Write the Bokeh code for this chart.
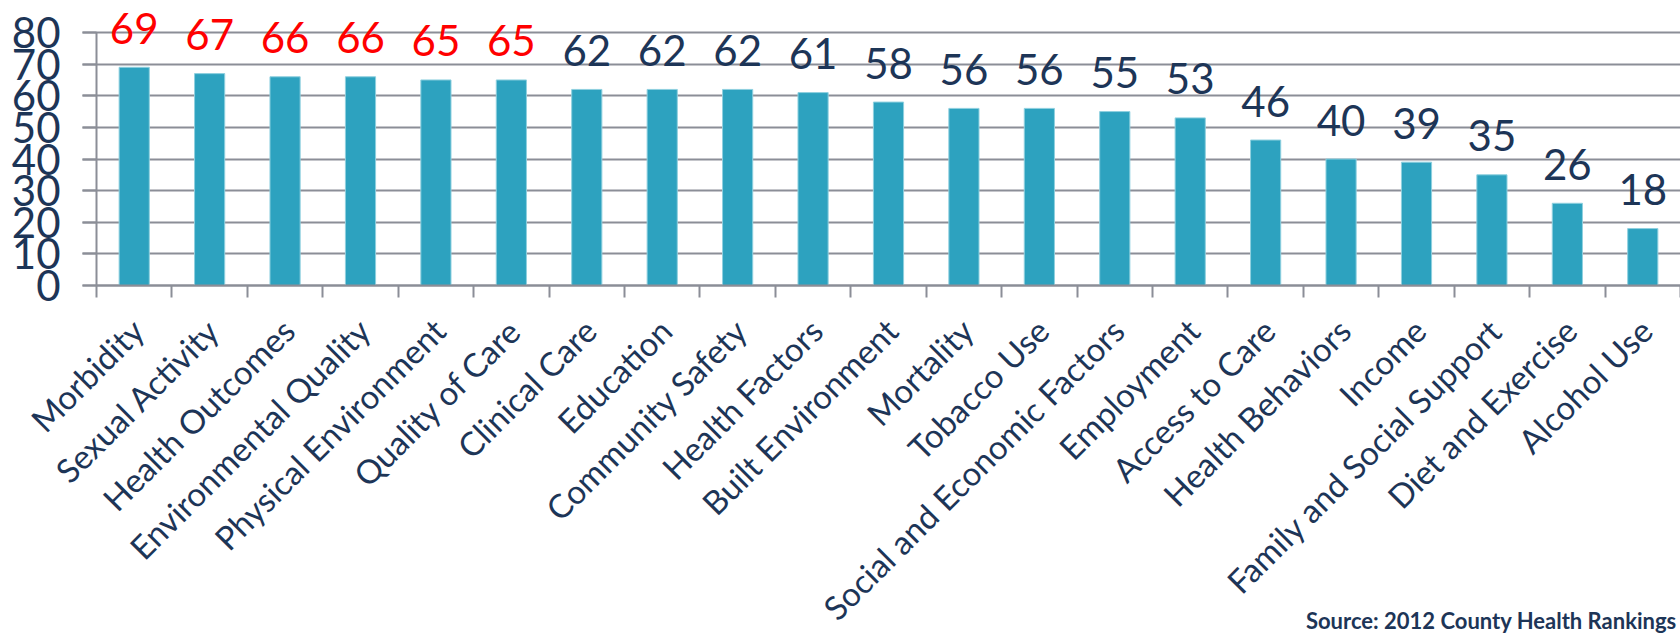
import math
from bokeh.plotting import figure
from bokeh.models import FixedTicker, ColumnDataSource, Label, Range1d, CustomJSTickFormatter, Grid
from bokeh.core.properties import value
from bokeh.embed import file_html
from bokeh.resources import INLINE

categories = ["Morbidity", "Sexual Activity", "Health Outcomes", "Environmental Quality",
              "Physical Environment", "Quality of Care", "Clinical Care", "Education",
              "Community Safety", "Health Factors", "Built Environment", "Mortality",
              "Tobacco Use", "Social and Economic Factors", "Employment", "Access to Care",
              "Health Behaviors", "Income", "Family and Social Support", "Diet and Exercise",
              "Alcohol Use"]
scores = [69, 67, 66, 66, 65, 65, 62, 62, 62, 61, 58, 56, 56, 55, 53, 46, 40, 39, 35, 26, 18]
highlighted = [True] * 6 + [False] * 15
y_ticks = [0, 10, 20, 30, 40, 50, 60, 70, 80]
source_note = "Source: 2012 County Health Rankings"

NAVY = "#1D3557"
RED = "#FF0000"
BAR = "#2DA2BF"
GRID = "#8B8E97"
FONT = "Lato"

n = len(categories)
centers = [i + 0.5 for i in range(n)]
label_ticks = [i + 0.54 for i in range(n)]
src = ColumnDataSource(dict(
    x=centers,
    top=scores,
    label=[str(s) for s in scores],
    color=[RED if h else NAVY for h in highlighted],
))

# frame covers the whole canvas; both axes are pinned at 0
p = figure(width=1680, height=636, x_range=Range1d(-1.2727, n), y_range=Range1d(-110.99, 90.12),
           output_backend="svg", toolbar_location=None,
           min_border_left=0, min_border_right=0, min_border_top=0, min_border_bottom=0)
p.outline_line_color = None
p.background_fill_color = "white"
p.border_fill_color = "white"

# horizontal grid lines, from the tick stubs to the right edge
grid_start = -14 / 75.43
if "cross_bounds" in Grid.properties():
    p.ygrid.cross_bounds = (grid_start, n)
    p.ygrid.grid_line_color = GRID
    p.ygrid.grid_line_width = 2
else:
    p.ygrid.visible = False
    p.segment(x0=[grid_start] * len(y_ticks), x1=[n] * len(y_ticks), y0=y_ticks, y1=y_ticks,
              line_color=GRID, line_width=2)
p.xgrid.visible = False

p.vbar(x="x", top="top", width=0.4, source=src, fill_color=BAR, line_color="#8FD0DF", line_width=1)
p.text(x="x", y="top", text="label", text_color="color", source=src,
       text_font=value(FONT), text_font_size="42px", text_align="center",
       text_baseline="alphabetic", y_offset=-39)

# y axis
p.yaxis.fixed_location = 0
p.yaxis.ticker = FixedTicker(ticks=y_ticks)
p.yaxis.bounds = (0, 80)
p.yaxis.axis_line_color = GRID
p.yaxis.axis_line_width = 2
p.yaxis.major_tick_line_color = GRID
p.yaxis.major_tick_line_width = 2
p.yaxis.major_tick_out = 14
p.yaxis.major_tick_in = 0
p.yaxis.minor_tick_line_color = None
p.yaxis.major_label_standoff = 22
p.yaxis.major_label_text_font = FONT
p.yaxis.major_label_text_font_size = "42px"
p.yaxis.major_label_text_color = NAVY

# x axis
p.xaxis.fixed_location = 0
p.xaxis.bounds = (0, n)
p.xaxis.ticker = FixedTicker(ticks=label_ticks, minor_ticks=list(range(n + 1)))
p.xaxis.formatter = CustomJSTickFormatter(args=dict(names=categories),
                                          code="return names[Math.floor(tick)] || '';")
p.xaxis.axis_line_color = GRID
p.xaxis.axis_line_width = 2
p.xaxis.major_tick_line_color = None
p.xaxis.major_tick_out = 0
p.xaxis.major_tick_in = 0
p.xaxis.minor_tick_line_color = GRID
p.xaxis.minor_tick_line_width = 2
p.xaxis.minor_tick_out = 12
p.xaxis.minor_tick_in = 0
p.xaxis.major_label_orientation = math.pi / 4
p.xaxis.major_label_standoff = 27
p.xaxis.major_label_text_font = FONT
p.xaxis.major_label_text_font_size = "33px"
p.xaxis.major_label_text_color = NAVY

p.add_layout(Label(x=20.95, y=-110.3, text=source_note, text_font=FONT,
                   text_font_size="22px", text_font_style="bold", text_color=NAVY,
                   text_baseline="bottom", text_align="right"))

open("out.html", "w").write(file_html(p, INLINE))
